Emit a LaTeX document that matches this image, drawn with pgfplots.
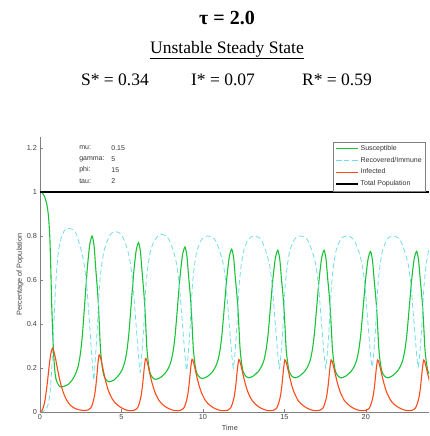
\documentclass[border=0pt]{standalone}
\usepackage{pgfplots}
\pgfplotsset{compat=1.18}
\usepackage{fontspec}
\setmainfont{Liberation Sans}
\newfontfamily\timesfont{Liberation Serif}
\definecolor{sgreen}{RGB}{25,195,55}
\definecolor{rcyan}{RGB}{110,222,232}
\definecolor{ired}{RGB}{255,75,25}
\definecolor{axgray}{RGB}{128,128,128}
\begin{document}
\begin{tikzpicture}
\begin{axis}[
  scale only axis, width=389pt, height=275pt,
  xmin=0, xmax=23.88, ymin=0, ymax=1.25,
  axis x line=bottom, axis y line=left,
  axis line style={-,axgray,line width=0.8pt},
  tick align=inside, major tick length=3pt, tick style={axgray,line width=0.6pt},
  xtick={0,5,10,15,20}, ytick={0,0.2,0.4,0.6,0.8,1,1.2},
  /pgf/number format/assume math mode=true,
  tick label style={font=\fontsize{7.3}{8}\selectfont, text=black!75},
  xticklabel style={yshift=1.5pt},
  yticklabel style={xshift=0.5pt},
  xlabel={Time}, ylabel={Percentage of Population},
  xlabel style={font=\fontsize{7.3}{8}\selectfont, text=black!75, at={(axis description cs:0.488,-0.058)}, anchor=center},
  ylabel style={font=\fontsize{7.3}{8}\selectfont, text=black!75, at={(axis description cs:-0.0514,0.5)}, anchor=center},
  legend style={at={(rel axis cs:0.992,0.983)}, anchor=north east, draw=axgray, font=\fontsize{7}{8}\selectfont, inner xsep=2pt, inner ysep=1.5pt, row sep=1.2pt, text=black!80},
  legend cell align=left,
  legend image code/.code={\draw[mark repeat=2,mark phase=2,#1] plot coordinates {(0pt,0pt) (11pt,0pt) (22pt,0pt)};},
]
\addplot[sgreen, line width=1.1pt, smooth, tension=0.4] coordinates {
(0,1.000) (0.15,0.995) (0.3,0.975) (0.43,0.94) (0.52,0.89) (0.6,0.80) (0.66,0.66) (0.71,0.51) (0.77,0.38) (0.84,0.26) (0.92,0.18) (1.02,0.14) (1.25,0.114)
(1.70,0.124) (2.00,0.148) (2.20,0.176) (2.35,0.210) (2.48,0.265) (2.60,0.347) (2.75,0.498) (2.90,0.649) (3.05,0.759) (3.20,0.800) (3.32,0.754) (3.42,0.654) (3.50,0.581) (3.57,0.508) (3.64,0.402) (3.71,0.289) (3.80,0.217) (3.90,0.170) (4.05,0.147) (4.25,0.137)
(4.55,0.146) (4.85,0.169) (5.05,0.194) (5.20,0.226) (5.33,0.276) (5.45,0.352) (5.60,0.491) (5.75,0.631) (5.90,0.732) (6.05,0.770) (6.17,0.726) (6.27,0.633) (6.35,0.565) (6.42,0.496) (6.49,0.397) (6.56,0.291) (6.65,0.223) (6.75,0.179) (6.90,0.157) (7.10,0.148)
(7.40,0.157) (7.70,0.178) (7.90,0.202) (8.05,0.232) (8.18,0.280) (8.30,0.353) (8.45,0.485) (8.60,0.618) (8.75,0.714) (8.90,0.750) (9.02,0.708) (9.12,0.618) (9.20,0.553) (9.27,0.487) (9.34,0.391) (9.41,0.290) (9.50,0.224) (9.60,0.182) (9.75,0.161) (9.95,0.152)
(10.27,0.161) (10.57,0.181) (10.77,0.205) (10.92,0.234) (11.05,0.281) (11.17,0.352) (11.32,0.481) (11.47,0.611) (11.62,0.705) (11.77,0.740) (11.89,0.699) (11.99,0.611) (12.07,0.547) (12.14,0.483) (12.21,0.389) (12.28,0.290) (12.37,0.225) (12.47,0.184) (12.62,0.164) (12.82,0.155)
(13.10,0.164) (13.40,0.184) (13.60,0.207) (13.75,0.236) (13.88,0.283) (14.00,0.352) (14.15,0.480) (14.30,0.607) (14.45,0.700) (14.60,0.735) (14.72,0.694) (14.82,0.607) (14.90,0.544) (14.97,0.480) (15.04,0.387) (15.11,0.288) (15.20,0.225) (15.30,0.184) (15.45,0.164) (15.65,0.155)
(15.94,0.164) (16.24,0.184) (16.44,0.207) (16.59,0.236) (16.72,0.283) (16.84,0.352) (16.99,0.480) (17.14,0.607) (17.29,0.700) (17.44,0.735) (17.56,0.694) (17.66,0.607) (17.74,0.544) (17.81,0.480) (17.88,0.387) (17.95,0.288) (18.04,0.225) (18.14,0.184) (18.29,0.164) (18.49,0.155)
(18.79,0.164) (19.09,0.184) (19.29,0.207) (19.44,0.236) (19.57,0.282) (19.69,0.351) (19.84,0.477) (19.99,0.604) (20.14,0.696) (20.29,0.730) (20.41,0.690) (20.51,0.604) (20.59,0.540) (20.66,0.477) (20.73,0.385) (20.80,0.287) (20.89,0.224) (20.99,0.184) (21.14,0.164) (21.34,0.155)
(21.62,0.164) (21.92,0.184) (22.12,0.207) (22.27,0.236) (22.40,0.282) (22.52,0.351) (22.67,0.477) (22.82,0.604) (22.97,0.696) (23.12,0.730) (23.24,0.690) (23.34,0.604) (23.42,0.540) (23.49,0.477) (23.56,0.385) (23.63,0.287) (23.72,0.224) (23.82,0.184) (23.97,0.164) (24.17,0.155)
};
\addlegendentry{Susceptible}
\addplot[rcyan, line width=0.8pt, dash pattern=on 5pt off 3pt, smooth, tension=0.4] coordinates {
(0,0) (0.2,0.003) (0.35,0.01) (0.5,0.035) (0.62,0.09) (0.74,0.22) (0.85,0.40) (0.95,0.56) (1.05,0.67) (1.15,0.74) (1.3,0.79) (1.5,0.825) (1.68,0.835)
(2.00,0.83) (2.20,0.815) (2.40,0.768) (2.55,0.73) (2.70,0.675) (2.85,0.59) (2.97,0.475) (3.08,0.36) (3.19,0.245) (3.30,0.145) (3.40,0.245) (3.50,0.36) (3.58,0.475) (3.66,0.58) (3.78,0.665) (3.94,0.735) (4.15,0.78) (4.35,0.81) (4.60,0.82)
(4.85,0.815) (5.05,0.80) (5.25,0.765) (5.40,0.73) (5.55,0.675) (5.70,0.585) (5.82,0.472) (5.93,0.365) (6.04,0.26) (6.15,0.18) (6.25,0.26) (6.35,0.365) (6.43,0.478) (6.51,0.58) (6.63,0.665) (6.79,0.735) (7.00,0.775) (7.20,0.797) (7.45,0.807)
(7.70,0.802) (7.90,0.787) (8.10,0.752) (8.25,0.715) (8.40,0.668) (8.55,0.58) (8.67,0.47) (8.78,0.367) (8.89,0.265) (9.00,0.19) (9.10,0.265) (9.20,0.367) (9.28,0.48) (9.36,0.58) (9.48,0.665) (9.64,0.735) (9.85,0.775) (10.05,0.795) (10.30,0.80)
(10.57,0.795) (10.77,0.78) (10.97,0.745) (11.12,0.71) (11.27,0.665) (11.42,0.58) (11.54,0.47) (11.65,0.37) (11.76,0.27) (11.87,0.20) (11.97,0.27) (12.07,0.37) (12.15,0.48) (12.23,0.58) (12.35,0.665) (12.51,0.735) (12.72,0.775) (12.92,0.795) (13.17,0.80)
(13.40,0.795) (13.60,0.78) (13.80,0.745) (13.95,0.71) (14.10,0.665) (14.25,0.58) (14.37,0.47) (14.48,0.37) (14.59,0.27) (14.70,0.20) (14.80,0.27) (14.90,0.37) (14.98,0.48) (15.06,0.58) (15.18,0.665) (15.34,0.735) (15.55,0.775) (15.75,0.795) (16.00,0.80)
(16.24,0.795) (16.44,0.78) (16.64,0.745) (16.79,0.71) (16.94,0.665) (17.09,0.58) (17.21,0.47) (17.32,0.37) (17.43,0.27) (17.54,0.20) (17.64,0.27) (17.74,0.37) (17.82,0.48) (17.90,0.58) (18.02,0.665) (18.18,0.735) (18.39,0.775) (18.59,0.795) (18.84,0.80)
(19.09,0.795) (19.29,0.78) (19.49,0.745) (19.64,0.71) (19.79,0.665) (19.94,0.58) (20.06,0.47) (20.17,0.37) (20.28,0.27) (20.39,0.205) (20.49,0.27) (20.59,0.37) (20.67,0.48) (20.75,0.58) (20.87,0.665) (21.03,0.735) (21.24,0.775) (21.44,0.795) (21.69,0.80)
(21.92,0.795) (22.12,0.78) (22.32,0.745) (22.47,0.71) (22.62,0.665) (22.77,0.58) (22.89,0.47) (23.00,0.37) (23.11,0.27) (23.22,0.205) (23.32,0.27) (23.42,0.37) (23.50,0.48) (23.58,0.58) (23.70,0.665) (23.86,0.735) (24.07,0.775)
};
\addlegendentry{Recovered/Immune}
\addplot[ired, line width=1.1pt, smooth, tension=0.4] coordinates {
(0,0) (0.1,0.005) (0.2,0.02) (0.3,0.05) (0.43,0.12) (0.55,0.2) (0.65,0.26) (0.76,0.29) (0.85,0.275) (0.95,0.245) (1.05,0.205) (1.17,0.16) (1.3,0.12) (1.45,0.085) (1.65,0.052) (1.85,0.032) (2.1,0.018) (2.4,0.01) (2.7,0.007)
(2.93,0.009) (3.13,0.02) (3.25,0.043) (3.35,0.076) (3.43,0.119) (3.50,0.173) (3.56,0.222) (3.63,0.26) (3.70,0.251) (3.78,0.227) (3.90,0.184) (4.03,0.141) (4.20,0.097) (4.43,0.06) (4.63,0.04) (4.93,0.022) (5.23,0.011) (5.48,0.006)
(5.78,0.008) (5.98,0.018) (6.10,0.040) (6.20,0.071) (6.28,0.111) (6.35,0.162) (6.41,0.208) (6.48,0.243) (6.55,0.235) (6.63,0.213) (6.75,0.172) (6.88,0.132) (7.05,0.091) (7.28,0.056) (7.48,0.037) (7.78,0.02) (8.08,0.01) (8.33,0.006)
(8.63,0.008) (8.83,0.018) (8.95,0.04) (9.05,0.07) (9.13,0.11) (9.20,0.16) (9.26,0.205) (9.33,0.24) (9.40,0.232) (9.48,0.21) (9.60,0.17) (9.73,0.13) (9.90,0.09) (10.13,0.055) (10.33,0.037) (10.63,0.02) (10.93,0.01) (11.18,0.006)
(11.50,0.008) (11.70,0.018) (11.82,0.04) (11.92,0.069) (12.00,0.109) (12.07,0.159) (12.13,0.203) (12.20,0.238) (12.27,0.230) (12.35,0.208) (12.47,0.169) (12.60,0.129) (12.77,0.089) (13.00,0.055) (13.20,0.037) (13.50,0.02) (13.80,0.01) (14.05,0.006)
(14.33,0.008) (14.53,0.018) (14.65,0.04) (14.75,0.069) (14.83,0.109) (14.90,0.158) (14.96,0.202) (15.03,0.237) (15.10,0.229) (15.18,0.207) (15.30,0.168) (15.43,0.128) (15.60,0.089) (15.83,0.054) (16.03,0.037) (16.33,0.02) (16.63,0.01) (16.88,0.006)
(17.17,0.008) (17.37,0.018) (17.49,0.04) (17.59,0.069) (17.67,0.109) (17.74,0.158) (17.80,0.202) (17.87,0.237) (17.94,0.229) (18.02,0.207) (18.14,0.168) (18.27,0.128) (18.44,0.089) (18.67,0.054) (18.87,0.037) (19.17,0.02) (19.47,0.01) (19.72,0.006)
(20.02,0.008) (20.22,0.018) (20.34,0.04) (20.44,0.069) (20.52,0.108) (20.59,0.157) (20.65,0.201) (20.72,0.236) (20.79,0.228) (20.87,0.206) (20.99,0.167) (21.12,0.128) (21.29,0.088) (21.52,0.054) (21.72,0.036) (22.02,0.02) (22.32,0.01) (22.57,0.006)
(22.85,0.008) (23.05,0.018) (23.17,0.04) (23.27,0.069) (23.35,0.108) (23.42,0.157) (23.48,0.201) (23.55,0.236) (23.62,0.228) (23.70,0.206) (23.82,0.167) (23.95,0.128)
};
\addlegendentry{Infected}
\addplot[black, line width=1.2pt] coordinates {(0,1) (23.88,1)};
\addlegendentry{Total Population}
\begin{scope}[every node/.style={font=\fontsize{7}{8}\selectfont, text=black!80, anchor=west, inner sep=0pt}]
\node at (axis cs:2.4,1.20) {mu:};
\node at (axis cs:4.37,1.20) {0.15};
\node at (axis cs:2.4,1.15) {gamma:};
\node at (axis cs:4.37,1.15) {5};
\node at (axis cs:2.4,1.10) {phi:};
\node at (axis cs:4.37,1.10) {15};
\node at (axis cs:2.4,1.05) {tau:};
\node at (axis cs:4.37,1.05) {2};
\end{scope}
\end{axis}
\node[font=\timesfont\bfseries\fontsize{20}{24}\selectfont] at (187pt,394pt) {τ = 2.0};
\node[font=\timesfont\fontsize{17.5}{20}\selectfont] at (187pt,362pt) {\underline{Unstable Steady State}};
\node[font=\timesfont\fontsize{17.5}{20}\selectfont] at (75pt,332pt) {S* = 0.34};
\node[font=\timesfont\fontsize{17.5}{20}\selectfont] at (183pt,332pt) {I* = 0.07};
\node[font=\timesfont\fontsize{17.5}{20}\selectfont] at (297pt,332pt) {R* = 0.59};
\pgfresetboundingbox
\path (-40pt,-24pt) rectangle (389pt,412pt);
\end{tikzpicture}
\end{document}
